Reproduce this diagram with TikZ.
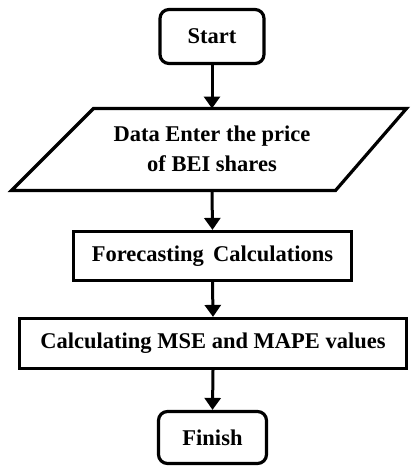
\documentclass[tikz,border=0pt]{standalone}
\usepackage{fontspec}
\setmainfont{Liberation Serif}
\usetikzlibrary{arrows.meta}
\tikzset{
  every node/.style={font=\fontsize{22.5}{30}\selectfont\bfseries, inner sep=0pt},
  boxline/.style={draw=black, line width=3.2pt},
  terminal/.style={boxline, rounded corners=9pt},
  process/.style={boxline},
  flow/.style={line width=3pt, -{Triangle[length=12pt,width=16pt]}}
}
\begin{document}
\begin{tikzpicture}[x=1pt,y=-1pt]
\useasboundingbox (0,0) rectangle (410,466);
\node[terminal, minimum width=104pt, minimum height=54pt] (start) at (212,36.5) {Start};
\node[align=center] (data) at (212,148.5) {Data Enter the price\\of BEI shares};
\coordinate (dtop) at (212,108.5);
\coordinate (dbot) at (212,190.5);
\draw[boxline, line join=miter] (93.5,108.5) -- (406.5,108.5) -- (335.5,190.5) -- (11.5,190.5) -- cycle;
\node[process, minimum width=278pt, minimum height=49pt] (fore) at (212.5,256) {Forecasting\, Calculations};
\node[process, minimum width=387pt, minimum height=50pt] (mse) at (213,343.5) {Calculating MSE and MAPE values};
\node[terminal, minimum width=108pt, minimum height=52pt] (fin) at (212.5,437.5) {Finish};
\draw[flow] (start.south) -- (dtop);
\draw[flow] (dbot) -- (fore.north);
\draw[flow] (fore.south) -- (mse.north);
\draw[flow] (mse.south) -- (fin.north);
\end{tikzpicture}
\end{document}
